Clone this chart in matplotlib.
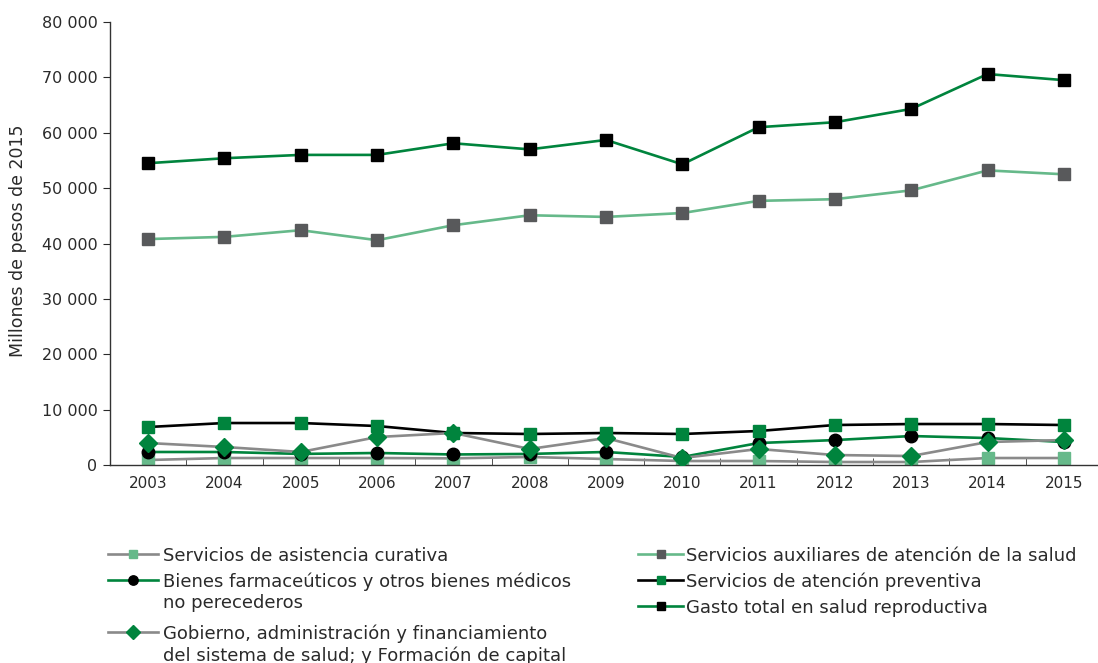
import matplotlib
matplotlib.use("Agg")
import matplotlib.pyplot as plt
from matplotlib.lines import Line2D
from matplotlib.ticker import FuncFormatter, MultipleLocator

plt.rcParams['font.family'] = ['DejaVu Sans']

years = [2003, 2004, 2005, 2006, 2007, 2008, 2009, 2010, 2011, 2012, 2013, 2014, 2015]
curativa = [900, 1260, 1260, 1260, 1200, 1450, 1080, 720, 720, 540, 540, 1260, 1260]
auxiliares = [40800, 41200, 42400, 40600, 43300, 45100, 44800, 45500, 47700, 48000, 49600, 53200, 52500]
farmaceuticos = [2350, 2350, 2000, 2170, 1900, 2000, 2350, 1450, 3970, 4500, 5230, 4870, 4150]
preventiva = [6860, 7580, 7580, 7040, 5780, 5600, 5780, 5600, 6140, 7220, 7400, 7400, 7220]
gobierno = [3970, 3250, 2350, 5050, 5780, 2890, 4870, 1260, 2890, 1800, 1620, 4150, 4510]
total = [54500, 55400, 56000, 56000, 58100, 57000, 58700, 54300, 61000, 61900, 64300, 70600, 69500]

lab_curativa = 'Servicios de asistencia curativa'
lab_auxiliares = 'Servicios auxiliares de atención de la salud'
lab_farmaceuticos = 'Bienes farmaceúticos y otros bienes médicos\nno perecederos'
lab_preventiva = 'Servicios de atención preventiva'
lab_gobierno = 'Gobierno, administración y financiamiento\ndel sistema de salud; y Formación de capital'
lab_total = 'Gasto total en salud reproductiva'

DKGREEN = '#00843D'
LTGREEN = '#66B98A'
GREY = '#8A8A8A'
DKGREY = '#58595B'
TXT = '#2A2A2A'

W, H = 1098, 663
fig = plt.figure(figsize=(W / 100, H / 100), dpi=100)
ax = fig.add_axes([110 / W, 1 - 465 / H, (1102 - 110) / W, (465 - 22) / H])

lw = 1.9
styles = {
    'cur': dict(color=GREY, lw=lw, marker='s', ms=8.5, mfc=LTGREEN, mec=LTGREEN),
    'aux': dict(color=LTGREEN, lw=lw, marker='s', ms=8.5, mfc=DKGREY, mec=DKGREY),
    'far': dict(color=DKGREEN, lw=lw, marker='o', ms=9, mfc='black', mec='black'),
    'pre': dict(color='black', lw=lw, marker='s', ms=8.5, mfc=DKGREEN, mec=DKGREEN),
    'gob': dict(color=GREY, lw=lw, marker='D', ms=9, mfc=DKGREEN, mec=DKGREEN),
    'tot': dict(color=DKGREEN, lw=lw, marker='s', ms=8.5, mfc='black', mec='black'),
}
ax.plot(years, curativa, zorder=2, **styles['cur'])
ax.plot(years, auxiliares, zorder=3, **styles['aux'])
ax.plot(years, farmaceuticos, zorder=4, **styles['far'])
ax.plot(years, preventiva, zorder=5, **styles['pre'])
ax.plot(years, gobierno, zorder=6, **styles['gob'])
ax.plot(years, total, zorder=7, **styles['tot'])

ax.set_xlim(2002.5, 2015.5)
ax.set_ylim(0, 80000)
ax.yaxis.set_major_locator(MultipleLocator(10000))
ax.yaxis.set_major_formatter(FuncFormatter(lambda v, p: f"{int(v):,}".replace(',', ' ')))
ax.set_xticks(years)
ax.set_xticklabels([str(y) for y in years])
ax.set_xticks([y + 0.5 for y in years[:-1]], minor=True)
ax.tick_params(axis='x', which='major', length=0, labelsize=11, pad=8, colors=TXT)
ax.tick_params(axis='x', which='minor', length=5, direction='in', color='#333333')
ax.tick_params(axis='y', length=5, labelsize=11.5, colors=TXT, pad=4)
for s in ['top', 'right']:
    ax.spines[s].set_visible(False)
for s in ['left', 'bottom']:
    ax.spines[s].set_color('#333333')
    ax.spines[s].set_linewidth(1.0)
fig.text(18 / W, 1 - 241 / H, 'Millones de pesos de 2015', rotation=90, fontsize=12.5,
         color=TXT, ha='center', va='center')

# manual legend (layout positions in pixels)
def legend_entry(key, label, x0, x1, xt, y):
    st = dict(styles[key])
    ms = st.pop('ms') * 0.75
    lin = Line2D([x0 / W, x1 / W], [1 - y / H, 1 - y / H], transform=fig.transFigure,
                 color=st['color'], lw=st['lw'])
    mk = Line2D([(x0 + x1) / 2 / W], [1 - y / H], transform=fig.transFigure, ls='none',
                marker=st['marker'], ms=ms, mfc=st['mfc'], mec=st['mec'])
    fig.add_artist(lin)
    fig.add_artist(mk)
    for i, line in enumerate(label.split('\n')):
        fig.text(xt / W, 1 - (y + i * 21.5) / H, line, fontsize=13, color=TXT,
                 ha='left', va='center_baseline')

legend_entry('cur', lab_curativa, 108, 158, 163, 554)
legend_entry('far', lab_farmaceuticos, 108, 158, 163, 580)
legend_entry('gob', lab_gobierno, 108, 158, 163, 632)
legend_entry('aux', lab_auxiliares, 638, 683, 686, 554)
legend_entry('pre', lab_preventiva, 638, 683, 686, 580)
legend_entry('tot', lab_total, 638, 683, 686, 606)

fig.savefig('out.png', dpi=100)
